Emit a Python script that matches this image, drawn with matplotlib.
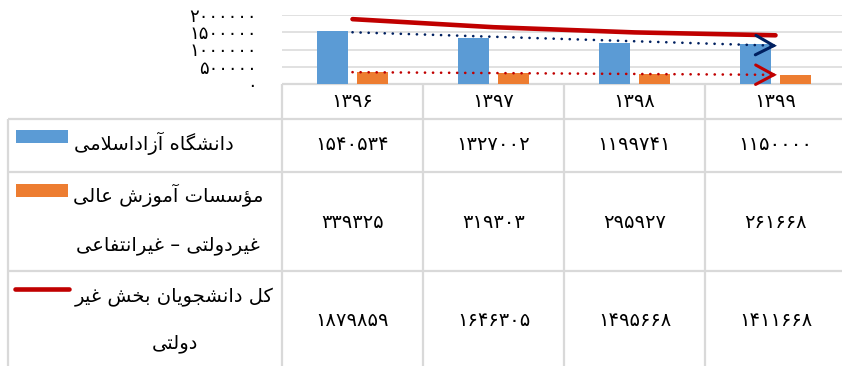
import numpy as np
import matplotlib
matplotlib.use("Agg")
import matplotlib.pyplot as plt
from matplotlib.transforms import blended_transform_factory

# ---------------- data ----------------
years = ["۱۳۹۶", "۱۳۹۷", "۱۳۹۸", "۱۳۹۹"]
azad = [1540534, 1327002, 1199741, 1150000]
nonprofit = [339325, 319303, 295927, 261668]
total = [1879859, 1646305, 1495668, 1411668]
yticks = [0, 500000, 1000000, 1500000, 2000000]
label_azad = ["دانشگاه آزاداسلامی"]
label_nonprofit = ["مؤسسات آموزش عالی", "غیردولتی – غیرانتفاعی"]
label_total = ["کل دانشجویان بخش غیر", "دولتی"]

# ---------------- helpers: Persian digits & shaping ----------------
FA_DIGITS = str.maketrans("0123456789", "۰۱۲۳۴۵۶۷۸۹")


def fa_num(v):
    return str(v).translate(FA_DIGITS)


FORMS = {
    'ا': ('\uFE8D', '\uFE8E', None, None),
    'آ': ('\uFE81', '\uFE82', None, None),
    'ؤ': ('\uFE85', '\uFE86', None, None),
    'د': ('\uFEA9', '\uFEAA', None, None),
    'ر': ('\uFEAD', '\uFEAE', None, None),
    'ز': ('\uFEAF', '\uFEB0', None, None),
    'و': ('\uFEED', '\uFEEE', None, None),
    'ب': ('\uFE8F', '\uFE90', '\uFE91', '\uFE92'),
    'ت': ('\uFE95', '\uFE96', '\uFE97', '\uFE98'),
    'ج': ('\uFE9D', '\uFE9E', '\uFE9F', '\uFEA0'),
    'خ': ('\uFEA5', '\uFEA6', '\uFEA7', '\uFEA8'),
    'س': ('\uFEB1', '\uFEB2', '\uFEB3', '\uFEB4'),
    'ش': ('\uFEB5', '\uFEB6', '\uFEB7', '\uFEB8'),
    'ع': ('\uFEC9', '\uFECA', '\uFECB', '\uFECC'),
    'غ': ('\uFECD', '\uFECE', '\uFECF', '\uFED0'),
    'ف': ('\uFED1', '\uFED2', '\uFED3', '\uFED4'),
    'ل': ('\uFEDD', '\uFEDE', '\uFEDF', '\uFEE0'),
    'م': ('\uFEE1', '\uFEE2', '\uFEE3', '\uFEE4'),
    'ن': ('\uFEE5', '\uFEE6', '\uFEE7', '\uFEE8'),
    'ه': ('\uFEE9', '\uFEEA', '\uFEEB', '\uFEEC'),
    'ک': ('\uFB8E', '\uFB8F', '\uFB90', '\uFB91'),
    'گ': ('\uFB92', '\uFB93', '\uFB94', '\uFB95'),
    'ی': ('\uFBFC', '\uFBFD', '\uFBFE', '\uFBFF'),
}
LAM_ALEF = {'ا': ('\uFEFB', '\uFEFC'), 'آ': ('\uFEF5', '\uFEF6')}


def dual(c):
    return c in FORMS and FORMS[c][2] is not None


def shape(s):
    out = []
    i = 0
    n = len(s)
    while i < n:
        c = s[i]
        prev = s[i - 1] if i > 0 else ''
        jp = dual(prev)
        if c == 'ل' and i + 1 < n and s[i + 1] in LAM_ALEF:
            out.append(LAM_ALEF[s[i + 1]][1 if jp else 0])
            i += 2
            continue
        if c in FORMS:
            nxt = s[i + 1] if i + 1 < n else ''
            jn = dual(c) and (nxt in FORMS)
            f = FORMS[c]
            if jp and jn:
                out.append(f[3])
            elif jp:
                out.append(f[1])
            elif jn:
                out.append(f[2])
            else:
                out.append(f[0])
        else:
            out.append(c)
        i += 1
    return ''.join(out)[::-1]


# ---------------- figure ----------------
plt.rcParams['font.family'] = ['DejaVu Sans']
W, H = 842, 366
fig = plt.figure(figsize=(W / 100, H / 100), dpi=100)
fig.patch.set_facecolor('white')

axf = fig.add_axes([0, 0, 1, 1])
axf.set_xlim(0, W)
axf.set_ylim(H, 0)
axf.axis('off')

grid_c = '#D9D9D9'
tl = 1.6
# table lines
for yy, x0 in [(84, 282), (118.5, 8), (171.7, 8), (270.7, 8)]:
    axf.plot([x0, W + 5], [yy, yy], color=grid_c, lw=tl, solid_capstyle='butt')
axf.plot([8, 8], [118.5, H + 5], color=grid_c, lw=tl, solid_capstyle='butt')
for xx in [282, 423, 564, 705]:
    axf.plot([xx, xx], [84, H + 5], color=grid_c, lw=tl, solid_capstyle='butt')

# chart axes
ax = fig.add_axes([282 / W, (H - 84) / H, (846 - 282) / W, 69 / H])
ax.set_zorder(3)
ax.patch.set_visible(False)
ax.set_xlim(-0.5, 3.5)
ax.set_ylim(0, 2000000)
for sp in ax.spines.values():
    sp.set_visible(False)
ax.set_yticks(yticks)
ax.set_yticklabels([fa_num(v) for v in yticks])
ax.tick_params(axis='y', length=0, pad=18, labelsize=13)
ax.set_xticks([])
ax.yaxis.grid(True, color=grid_c, lw=1.1)
ax.set_axisbelow(True)

blue = '#5B9BD5'
orange = '#ED7D31'
red = '#C00000'
navy = '#002060'
x = np.arange(len(years))
bw = 0.22
off = 0.142
ax.bar(x - off, azad, width=bw, color=blue, zorder=2)
ax.bar(x + off, nonprofit, width=bw, color=orange, zorder=2)

# trend lines (linear fit of each series)
for series, col in [(azad, navy), (nonprofit, red)]:
    coef = np.polyfit(x, series, 1)
    xs = np.array([x[0], x[-1]])
    ax.plot(xs, np.polyval(coef, xs), color=col, lw=1.9,
            linestyle=(0, (0.05, 3.0)), dash_capstyle='round', zorder=5,
            clip_on=False)
    xb = x[-1] - 0.03
    ax.annotate('', xy=(x[-1] + 0.01, np.polyval(coef, x[-1] + 0.01)),
                xytext=(xb, np.polyval(coef, xb)),
                arrowprops=dict(arrowstyle='->,head_length=1.3,head_width=0.7',
                                color=col, lw=2.2, shrinkA=0, shrinkB=0,
                                capstyle='round', joinstyle='miter'),
                annotation_clip=False, zorder=6)

ax.plot(x, total, color=red, lw=3.3, solid_capstyle='round',
        solid_joinstyle='round', zorder=4, clip_on=False)

# table text
tr = blended_transform_factory(ax.transData, axf.transData)
nfs = 14
for i, yl in enumerate(years):
    ax.text(i, 101.5, yl, transform=tr, ha='center', va='center', fontsize=nfs)
for row_y, vals in [(145, azad), (222, nonprofit), (320, total)]:
    for i, v in enumerate(vals):
        ax.text(i, row_y, fa_num(v), transform=tr, ha='center', va='center',
                fontsize=nfs)

# legend keys
axf.add_patch(plt.Rectangle((16, 130), 52, 12.5, color=blue, lw=0))
axf.add_patch(plt.Rectangle((16, 184), 52, 12.5, color=orange, lw=0))
axf.plot([15, 69], [289, 289], color=red, lw=3.3, solid_capstyle='round')

fs = 14
axf.text(154, 150, shape(label_azad[0]), ha='center', va='baseline', fontsize=fs)
axf.text(168, 202, shape(label_nonprofit[0]), ha='center', va='baseline', fontsize=fs)
axf.text(168, 250, shape(label_nonprofit[1]), ha='center', va='baseline', fontsize=fs)
axf.text(174, 302, shape(label_total[0]), ha='center', va='baseline', fontsize=fs)
axf.text(175, 348, shape(label_total[1]), ha='center', va='baseline', fontsize=fs)

fig.savefig('out.png', dpi=100, facecolor='white')
